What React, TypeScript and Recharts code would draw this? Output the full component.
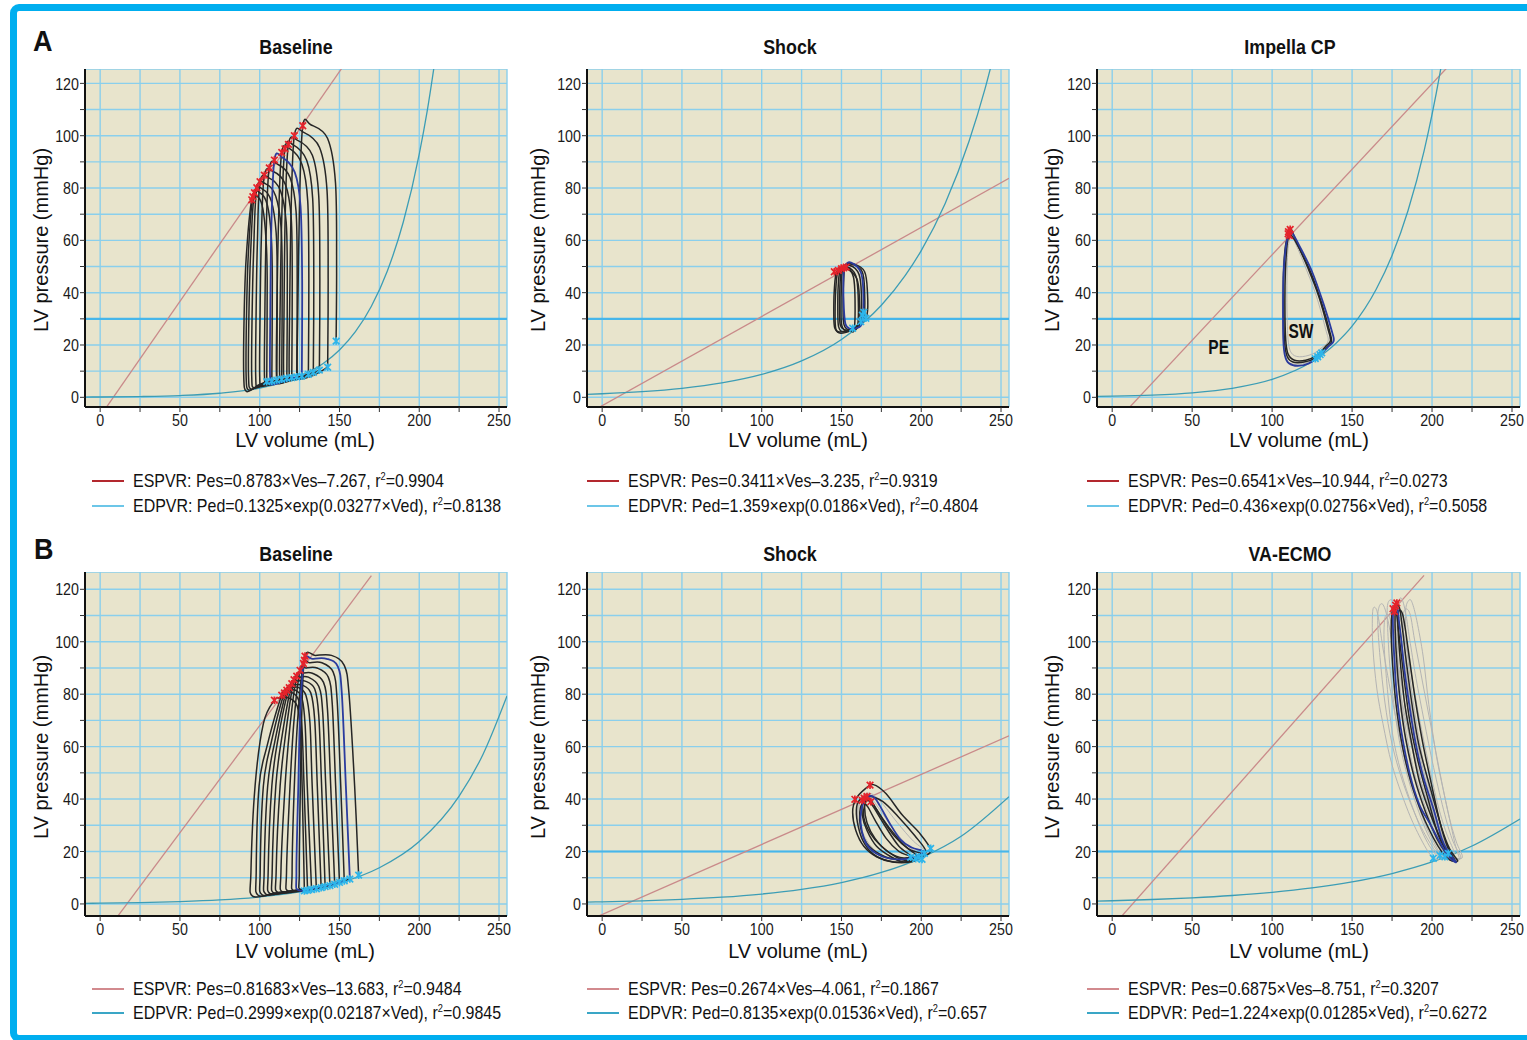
import React from 'react';
import { ComposedChart, Line, Scatter, XAxis, YAxis, CartesianGrid, ReferenceLine } from 'recharts';

type Pt = [number, number];

// ---------------- axes ----------------
const xTicks = [0, 25, 50, 75, 100, 125, 150, 175, 200, 225, 250];
const yTicks = [0, 10, 20, 30, 40, 50, 60, 70, 80, 90, 100, 110, 120];
const xLabelTicks = [0, 50, 100, 150, 200, 250];
const yLabelTicks = [0, 20, 40, 60, 80, 100, 120];

// ---------------- A / Baseline ----------------
const a1Espvr: Pt[] = [[-2, -9.0], [155, 128.9]];
const a1Edpvr: Pt[] = [[-10, 0.1], [0, 0.13], [25, 0.3], [50, 0.68], [75, 1.55], [100, 3.5], [125, 8], [140, 13], [150, 18.1], [160, 25.1], [170, 34.8], [180, 48.3], [190, 67], [200, 93], [205, 109.5], [212, 137.8]];
const a1Loops: Pt[][] = [
  [[147.9, 21.5], [148.2, 50], [147.5, 82], [142.5, 99], [132, 104.2], [127, 103.8], [125, 75], [123.8, 30], [123.5, 10], [125, 7], [134, 8.5], [142.6, 11.5]],
  [[142.6, 11.5], [142.9, 45], [142.2, 79], [137.5, 95.5], [127, 101.5], [121.7, 100], [119.7, 72], [118.7, 30], [118.5, 9], [120, 6.5], [130, 8.2], [137.4, 10.4]],
  [[137.4, 10.4], [137.7, 45], [137, 77], [133, 92.5], [123.5, 98.3], [118, 96.7], [116, 70], [115.2, 30], [115, 9], [116.5, 6], [126, 7.8], [133.6, 9.5]],
  [[133.6, 9.5], [133.9, 45], [133.2, 76], [129.5, 90.5], [121, 96.5], [115.8, 95], [113.8, 68], [112.7, 30], [112.5, 8.5], [114, 5.6], [123, 7.4], [130.5, 8.8]],
  [[130.5, 8.8], [130.8, 45], [130.1, 75], [126.5, 89], [119, 95], [113.8, 93.6], [111.8, 67], [110.7, 30], [110.5, 8.5], [112, 5.2], [120, 6.9], [126.4, 8.1]],
  [[123.2, 7.8], [123.5, 45], [122.8, 71], [119, 84], [111.5, 89], [106, 87.7], [104, 62], [103.2, 30], [103, 8], [104.5, 4.6], [113, 6.1], [120.1, 7.5]],
  [[120.1, 7.5], [120.4, 45], [119.7, 69], [116, 81.5], [108.5, 86.3], [102.9, 84.9], [101, 60], [100.2, 30], [100, 8], [101.5, 4.3], [110, 5.8], [117, 7.3]],
  [[117, 7.3], [117.3, 45], [116.6, 67], [113, 79], [106, 83.8], [100.2, 82.4], [98.5, 58], [97.7, 30], [97.5, 8], [99, 4], [107, 5.6], [113.8, 6.9]],
  [[113.8, 6.9], [114.1, 45], [113.4, 65], [110, 77], [104, 81.5], [98.2, 80.1], [96.2, 56], [95.2, 30], [95, 8], [96.5, 3.6], [104, 5.3], [110.7, 6.6]],
  [[110.7, 6.6], [111, 45], [110.3, 63], [107.3, 75], [102, 79.5], [96.7, 78.2], [94.3, 55], [93.2, 30], [93, 8], [94.5, 3.2], [101, 5], [107.6, 6.2]],
  [[107.6, 6.2], [107.9, 45], [107.2, 62], [104.8, 73.5], [100.5, 78], [95.7, 76.7], [92.8, 54], [91.7, 30], [91.5, 8], [93, 2.8], [99, 4.6], [104.4, 6]],
  [[104.4, 6], [104.7, 45], [104, 60], [102, 72], [99, 76.5], [95, 75.5], [91.5, 53], [90.2, 30], [90, 8], [91.5, 2.3], [97, 3.6], [103, 5.4]],
];
const a1Blue: Pt[][] = [
  [[126.4, 8.1], [126.6, 45], [125.6, 73], [122, 86], [114, 91.8], [109.2, 90.7], [107.3, 65], [106.6, 30], [106.5, 8], [108, 4.9], [116, 6.4], [123.2, 7.8]],
];
const a1Es: Pt[] = [[127, 103.8], [121.7, 100], [118, 96.7], [115.8, 95], [113.8, 93.6], [109.2, 90.7], [106, 87.7], [102.9, 84.9], [100.2, 82.4], [98.2, 80.1], [96.7, 78.2], [95.7, 76.7], [95, 75.5]];
const a1Ed: Pt[] = [[147.9, 21.5], [142.6, 11.5], [137.4, 10.4], [133.6, 9.5], [130.5, 8.8], [126.4, 8.1], [123.2, 7.8], [120.1, 7.5], [117, 7.3], [113.8, 6.9], [110.7, 6.6], [107.6, 6.2], [104.4, 6.0]];

// ---------------- A / Shock ----------------
const a2Espvr: Pt[] = [[-10, -6.6], [255, 83.7]];
const a2Edpvr: Pt[] = [[-10, 1.13], [0, 1.36], [25, 2.16], [50, 3.44], [75, 5.48], [100, 8.73], [125, 13.9], [150, 22.1], [175, 35.2], [190, 46.6], [200, 56.1], [215, 74.1], [230, 98], [240, 118], [248, 137]];
const a2Loops: Pt[][] = [
  [[160, 27], [160.5, 38], [159, 46.5], [153, 50], [148, 48.5], [146.5, 42], [146, 32], [146.5, 26], [149.5, 24.5], [156, 25.5]],
  [[162, 28.5], [162.5, 39], [161, 47], [155, 50.5], [149.5, 49], [148, 43], [147.7, 33], [148.2, 27], [151, 25], [158, 26.5]],
  [[158, 26], [158.5, 37], [157.5, 46], [153, 50], [150, 48.5], [149, 42], [148.8, 32], [149.3, 27.5], [151.5, 26], [155.5, 25.5]],
  [[164, 30], [164.5, 40], [163, 48], [156, 51], [151, 49.5], [150, 43], [149.7, 33], [150.2, 27.5], [153, 25.5], [160, 27.5]],
  [[161, 27.5], [161.3, 37], [159.5, 45.5], [152, 49.5], [147, 48], [145.5, 41], [145.2, 31], [145.8, 26.5], [148.5, 25], [156, 26]],
  [[166, 31.5], [166.3, 40], [164.5, 48], [157.5, 51], [152.5, 50], [151.3, 44], [151, 34], [151.5, 28], [154.5, 26], [162, 28.5]],
];
const a2Blue: Pt[][] = [
  [[163, 28.5], [163.8, 38], [162.3, 47.5], [156, 51.5], [152, 50], [151.2, 44], [151.5, 34], [152.5, 28], [155, 26.3], [159.5, 26.5]],
];
const a2Es: Pt[] = [[145.5, 48], [148, 48.5], [150, 49.2], [151.5, 49.5], [153, 49.8]];
const a2Ed: Pt[] = [[157, 26.4], [162.1, 28.9], [165.3, 30.2], [163.1, 31.4], [164, 32.5]];

// ---------------- A / Impella CP ----------------
const a3Espvr: Pt[] = [[0, -10.9], [210, 126.4]];
const a3Edpvr: Pt[] = [[-10, 0.33], [0, 0.44], [25, 0.87], [50, 1.73], [75, 3.44], [100, 6.86], [125, 13.7], [140, 20.7], [150, 27.2], [165, 41.2], [175, 54.2], [185, 71.4], [195, 94.1], [205, 124], [210, 142]];
const a3Gray: Pt[][] = [
  [[112, 62], [110, 57], [109.3, 46], [109.3, 33], [110, 22], [112, 17], [117, 15.5], [125, 16.5], [131, 19], [135, 21.5], [133.5, 26], [127.5, 39], [120, 51], [114.5, 59]],
  [[110.5, 63], [108, 57], [106.5, 45], [106.5, 32], [107.3, 20], [109, 14.5], [112.5, 12.8], [119, 12.8], [126, 14.5], [132, 17.8], [136.5, 20.5], [135.8, 24], [130, 37], [122.5, 50], [115.5, 58.5]],
];
const a3Loops: Pt[][] = [
  [[110.5, 62.5], [108.3, 57.5], [107.2, 47], [107.2, 33], [107.8, 21], [109.5, 15.5], [113, 13.5], [120, 13.5], [127, 15], [133, 18.5], [137, 21], [136.3, 24.5], [131, 36], [124, 48], [116.5, 57.5], [112, 62]],
  [[111.5, 64], [109.5, 59], [108.3, 48], [108, 35], [108.5, 22], [110, 16.5], [114, 14.2], [121, 14.2], [128, 16], [133.5, 19.5], [136.5, 21.7], [135, 26], [129.5, 38], [122, 50], [115.5, 59], [112.5, 63.5]],
];
const a3Blue: Pt[][] = [
  [[111, 63.5], [108.8, 58.5], [107.2, 48], [106.8, 35], [107, 22], [108, 16], [110.5, 13], [116, 12], [123, 13], [129, 15.5], [135, 19.3], [138.5, 21.5], [137.5, 25], [132, 36], [125, 48], [117, 58], [112.5, 63]],
];
const a3Es: Pt[] = [[110.2, 63.3], [110.8, 61.8], [111.3, 64.2], [110, 62.5]];
const a3Ed: Pt[] = [[128.5, 15.5], [130, 16.3], [127, 14.8], [131, 17]];
const a3Notes: { v: number; p: number; text: string }[] = [{ v: 118, p: 25.7, text: 'SW' }, { v: 66.6, p: 19.3, text: 'PE' }];

// ---------------- B / Baseline ----------------
const b1Espvr: Pt[] = [[8, -7.15], [170, 125.2]];
const b1Edpvr: Pt[] = [[-10, 0.24], [0, 0.3], [25, 0.52], [50, 0.9], [75, 1.55], [100, 2.67], [125, 4.62], [150, 7.97], [175, 13.8], [200, 23.8], [225, 41.1], [240, 57.1], [255, 79.3]];
const b1Loops: Pt[][] = [
  [[162, 11], [159.5, 45], [156, 80], [153, 91], [145, 94.8], [135, 94.8], [128.4, 94.5], [126.5, 75], [125.5, 45], [124.8, 12], [126, 5.4], [140, 7], [156.5, 9.5]],
  [[153, 8.8], [150.8, 45], [148.5, 78], [146, 88.5], [139, 92], [131, 92], [127.4, 91.7], [124, 72], [121.7, 45], [120.3, 12], [121.5, 5], [135, 6.3], [150, 8.2]],
  [[150, 8.2], [147.6, 45], [145.5, 76], [143, 86.5], [136, 90], [129, 90], [125.3, 89.1], [121.5, 70], [119, 45], [116.8, 12], [118, 4.8], [132, 6], [147, 7.5]],
  [[147, 7.5], [144.5, 45], [142.5, 74], [140, 84.5], [133, 88], [127, 88], [123.2, 86.9], [119, 68], [115.9, 45], [113.3, 12], [114.5, 4.5], [129, 5.7], [144, 7]],
  [[144, 7], [141.4, 45], [139.5, 73], [137, 83], [130.5, 86.5], [125, 86.5], [121.5, 85.5], [116.5, 66], [112.8, 45], [110.3, 12], [111.5, 4.3], [126, 5.5], [141, 6.6]],
  [[141, 6.6], [138.8, 45], [137, 72], [134.5, 82], [128.5, 85], [123.5, 85], [120.1, 84], [114, 64], [110.1, 45], [107.8, 12], [109, 4.1], [123, 5.2], [138.5, 6.2]],
  [[138.5, 6.2], [136.1, 45], [134.5, 70], [132, 80.5], [126.5, 83.5], [122, 83.5], [118.5, 82.5], [111.5, 63], [107.6, 45], [105.3, 12], [106.5, 3.9], [120, 5], [135.5, 5.8]],
  [[135.5, 5.8], [132.9, 45], [131.5, 69], [129, 79.5], [124.5, 82.5], [120.5, 82.5], [117, 81.5], [109.5, 62], [105, 45], [102.8, 12], [104, 3.7], [118, 4.8], [132.5, 5.5]],
  [[132.5, 5.5], [129.8, 45], [128.5, 68], [126.5, 78.5], [122.5, 81.5], [119, 81.5], [115.5, 80.5], [107, 61], [102.3, 45], [100.3, 12], [101.5, 3.5], [115, 4.6], [130, 5.2]],
  [[130, 5.2], [127.8, 45], [126.5, 67], [124.5, 77.5], [120.5, 80.5], [117, 80.5], [113.8, 79.6], [104.5, 60], [99.6, 45], [97.8, 12], [99, 3.3], [112, 4.4], [128, 5]],
  [[128, 5], [126.6, 45], [125.5, 66], [123.5, 75.5], [118.5, 78.5], [113, 78.5], [109.2, 77.7], [102.3, 68.8], [97.1, 45], [94.5, 12], [95.5, 3], [110, 4.2], [126, 4.8]],
];
const b1Blue: Pt[][] = [
  [[156.5, 9.5], [154, 45], [151.5, 80], [149, 90.5], [142, 93.5], [133, 93.5], [128, 93], [125.5, 75], [124.2, 45], [123, 12], [124.5, 5.2], [138, 6.5], [153, 8.8]],
];
const b1Es: Pt[] = [[128.4, 94.5], [128, 93], [127.4, 91.7], [125.3, 89.1], [123.2, 86.9], [121.5, 85.5], [120.1, 84], [118.5, 82.5], [117, 81.5], [115.5, 80.5], [113.8, 79.6], [109.2, 77.7]];
const b1Ed: Pt[] = [[162, 11], [156.5, 9.5], [153, 8.8], [150, 8.2], [147, 7.5], [144, 7], [141, 6.6], [138.5, 6.2], [135.5, 5.8], [132.5, 5.5], [130, 5.2], [128, 5]];

// ---------------- B / Shock ----------------
const b2Espvr: Pt[] = [[-10, -6.7], [255, 64.1]];
const b2Edpvr: Pt[] = [[-10, 0.7], [0, 0.81], [25, 1.19], [50, 1.75], [75, 2.57], [100, 3.78], [125, 5.55], [150, 8.15], [175, 12], [200, 17.6], [225, 25.8], [255, 40.9]];
const b2Gray: Pt[][] = [
  [[204, 19.5], [195, 24], [185, 31], [176, 38], [169, 42], [163.5, 41.5], [160.5, 38], [160.5, 31], [164, 24], [171, 19.5], [181, 17], [192, 16.5], [200, 17.5]],
  [[199, 18.5], [191, 22.5], [182, 29], [174, 36], [168, 40.5], [163, 40.5], [161, 37], [162, 30], [166, 24], [173, 19.5], [183, 17], [193, 17]],
];
const b2Loops: Pt[][] = [
  [[206, 20.5], [199, 27], [188, 34], [178, 42], [170, 45.5], [165, 44], [159, 40], [157, 35], [159, 28], [164, 22], [172, 18], [182, 16], [193, 16], [201, 18]],
  [[203, 20], [196, 26], [186, 33], [176, 39], [168, 41], [162, 40], [159.5, 37], [160, 31], [163.5, 24], [170, 19], [179, 16.5], [190, 16], [198, 17.5]],
  [[198, 18], [190, 22], [180, 29], [172, 36], [168, 39.5], [165, 38.5], [164, 33], [168, 27], [175, 22], [184, 18], [192, 16.5]],
  [[195, 17.5], [186, 22], [177, 30], [170, 37], [166, 40], [163.5, 39], [163, 34], [166, 28], [172, 22], [181, 18], [189, 16]],
  [[200, 19], [192, 21], [183, 26], [175, 33], [169, 39], [166, 40.5], [164.5, 37], [166, 31], [171, 25], [179, 20], [189, 17.5]],
  [[193, 18], [186, 20], [178, 25], [171, 32], [166.5, 37], [163.5, 38.5], [161.5, 35], [162, 29], [166, 23], [174, 19], [184, 17]],
];
const b2Blue: Pt[][] = [
  [[201.5, 20], [194, 21.5], [187, 24.5], [180, 31], [174, 37.5], [170, 40.9], [165.5, 40.5], [162.5, 36], [162, 31], [164, 25], [168, 21], [176, 18], [187, 17], [196, 18]],
];
const b2Es: Pt[] = [[167.9, 45.3], [158.4, 39.9], [164.2, 40.3], [168.4, 39], [166, 41], [163, 39.5]];
const b2Ed: Pt[] = [[193.4, 17.8], [198.6, 18], [205.9, 21.2], [202, 19.3], [196.5, 17.3], [200.5, 17]];

// ---------------- B / VA-ECMO ----------------
const b3Espvr: Pt[] = [[0, -8.75], [195, 125.3]];
const b3Edpvr: Pt[] = [[-10, 1.08], [0, 1.22], [25, 1.69], [50, 2.33], [75, 3.21], [100, 4.42], [125, 6.1], [150, 8.41], [175, 11.6], [200, 16], [225, 22.1], [255, 32.4]];
const b3Gray: Pt[][] = [
  [[205, 18.5], [196, 30], [186, 48], [177, 72], [170, 95], [166.5, 109], [164.5, 113], [162.8, 111], [163, 98], [165.5, 82], [169.3, 68.8], [175, 53], [184, 37], [192, 26], [200, 18]],
  [[217, 17], [214.3, 23.1], [209, 38], [202.8, 56.1], [198, 76], [194.5, 94.2], [190.5, 108], [187.5, 115], [185.5, 115.8], [183.5, 112], [184, 100], [186.5, 85], [190, 70], [195, 53], [201, 37], [207, 25], [212, 18.5]],
  [[218, 17.5], [213, 24], [208, 34], [201, 52], [195, 70], [190, 86], [186, 101], [183.5, 111], [181, 116.5], [179, 115], [178, 108], [178.5, 95], [180.5, 80], [184, 65], [190, 47], [197, 33], [204, 23], [210, 18]],
  [[210, 18], [203, 27], [196, 40], [189, 57], [183, 76], [178.5, 93], [175.5, 104], [173, 110], [170.5, 109], [170, 100], [171.5, 86], [174.5, 68], [179, 54], [186, 40], [195, 26], [203, 18.5]],
  [[219, 18], [215, 24], [210, 35], [204, 53], [198, 72], [193, 88], [189, 101], [186.5, 110], [184, 112.5], [182, 110], [182.5, 100], [184, 88], [187, 73], [191, 58], [196, 45], [203, 30], [210, 20], [215, 17.5]],
  [[213, 17], [207, 25], [200, 38], [193, 55], [187, 74], [182, 92], [178.5, 106], [176.5, 114], [174, 116], [172, 113], [172.5, 102], [174, 88], [177.5, 70], [182, 55], [189, 40], [197, 27], [205, 19]],
  [[214, 19], [209, 27], [204, 37], [198, 53], [192, 71], [187, 88], [183, 101], [180.5, 108], [178, 110], [176.5, 106], [177, 95], [179, 82], [182, 68], [187, 54], [193, 42], [200, 30], [207, 21]],
  [[211, 18], [204, 27], [196, 41], [188, 58], [181, 78], [176, 96], [172.5, 108], [169.5, 114], [167, 113.5], [166, 108], [167.5, 94], [170.5, 77], [175, 61], [182, 46], [191, 32], [200, 22], [206, 17.5]],
];
const b3Loops: Pt[][] = [
  [[216, 16.5], [211, 21], [206, 29], [199, 44], [192, 60], [187.5, 76], [184, 92], [181.5, 105], [180, 112], [178.5, 114], [177, 112], [177, 104], [178, 92], [180, 78], [183.5, 63], [189, 48], [196, 35], [203, 25], [208.5, 19.5], [212.5, 17]],
  [[213, 16.5], [208.5, 20.5], [203.5, 27], [197.5, 40], [191, 55], [186, 70], [182.5, 86], [179.8, 100], [178, 110], [176.3, 113], [174.8, 110], [174.5, 102], [175.5, 90], [177.5, 76], [181.5, 60], [187, 46], [194, 34], [201, 25], [206.5, 19.5], [210, 17.3]],
  [[214, 17], [209.5, 22], [205, 31], [199.5, 46], [194, 62], [189.5, 78], [186, 93], [183.5, 104], [181.8, 110], [180, 112], [178.7, 110], [179, 102], [180.5, 90], [183, 76], [187, 62], [192, 47], [198.5, 35], [204.5, 26], [209.5, 20], [212, 18]],
];
const b3Blue: Pt[][] = [
  [[215, 16], [210, 20], [206, 25], [201, 36], [194.5, 48.5], [189.5, 62], [186, 75], [183, 88], [180.8, 100.6], [179.3, 108], [178.5, 112.5], [177, 113.5], [175.7, 111.5], [175.6, 105], [176.3, 95], [177.7, 81.5], [180.5, 67], [186, 49.8], [192, 38], [198.6, 30.7], [204, 24.5], [209, 19.3], [212, 17]],
];
const b3Es: Pt[] = [[177.2, 113.9], [175.6, 112.6], [176.5, 111.5], [178, 114.8]];
const b3Ed: Pt[] = [[200.8, 17.4], [208, 18], [210.2, 19.3], [205, 18.5]];

// ---------------- text ----------------
const titles = ['Baseline', 'Shock', 'Impella CP', 'Baseline', 'Shock', 'VA-ECMO'];
const espvrText = ['ESPVR: Pes=0.8783×Ves–7.267, r', 'ESPVR: Pes=0.3411×Ves–3.235, r', 'ESPVR: Pes=0.6541×Ves–10.944, r', 'ESPVR: Pes=0.81683×Ves–13.683, r', 'ESPVR: Pes=0.2674×Ves–4.061, r', 'ESPVR: Pes=0.6875×Ves–8.751, r'];
const espvrR2 = ['0.9904', '0.9319', '0.0273', '0.9484', '0.1867', '0.3207'];
const edpvrText = ['EDPVR: Ped=0.1325×exp(0.03277×Ved), r', 'EDPVR: Ped=1.359×exp(0.0186×Ved), r', 'EDPVR: Ped=0.436×exp(0.02756×Ved), r', 'EDPVR: Ped=0.2999×exp(0.02187×Ved), r', 'EDPVR: Ped=0.8135×exp(0.01536×Ved), r', 'EDPVR: Ped=1.224×exp(0.01285×Ved), r'];
const edpvrR2 = ['0.8138', '0.4804', '0.5058', '0.9845', '0.657', '0.6272'];

// ---------------- layout / style ----------------
const SANS = '"Liberation Sans", Arial, Helvetica, sans-serif';
const NARROW_SCALE = 0.84;
const colLeft = [85, 587, 1097];
const colWidth = [422, 422, 423];
const rowTop = [69, 572];
const rowHeight = [338, 344];
const rowYDomain: [number, number][] = [[-3.7, 125.5], [-4.6, 126.6]];
const X_DOMAIN: [number, number] = [-9.5, 255];
const Y_W = 40;
const X_H = 30;
const R_M = 16;
const titleX = [296, 790, 1290];
const titleY = [47, 554];
const yLabX = [41, 538, 1052];
const yLabY = [240, 747];
const xLabX = [305, 798, 1299];
const xLabY = [440, 951];
const legX = [92, 587, 1087];
const legY = [[481, 506], [989, 1013]];
const legEsColor = ['#B3282E', '#D28A8E'];
const legEdColor = ['#6CC6E8', '#3AA6C6'];

interface PanelCfg {
  row: number; col: number;
  espvr: Pt[]; edpvr: Pt[];
  gray: Pt[][]; black: Pt[][]; blue: Pt[][];
  closed: boolean; es: Pt[]; ed: Pt[];
  emph: number | null;
  notes?: { v: number; p: number; text: string }[];
}

const panels: PanelCfg[] = [
  { row: 0, col: 0, espvr: a1Espvr, edpvr: a1Edpvr, gray: [], black: a1Loops, blue: a1Blue, closed: false, es: a1Es, ed: a1Ed, emph: 30 },
  { row: 0, col: 1, espvr: a2Espvr, edpvr: a2Edpvr, gray: [], black: a2Loops, blue: a2Blue, closed: true, es: a2Es, ed: a2Ed, emph: 30 },
  { row: 0, col: 2, espvr: a3Espvr, edpvr: a3Edpvr, gray: a3Gray, black: a3Loops, blue: a3Blue, closed: true, es: a3Es, ed: a3Ed, emph: 30, notes: a3Notes },
  { row: 1, col: 0, espvr: b1Espvr, edpvr: b1Edpvr, gray: [], black: b1Loops, blue: b1Blue, closed: false, es: b1Es, ed: b1Ed, emph: null },
  { row: 1, col: 1, espvr: b2Espvr, edpvr: b2Edpvr, gray: b2Gray, black: b2Loops, blue: b2Blue, closed: true, es: b2Es, ed: b2Ed, emph: 20 },
  { row: 1, col: 2, espvr: b3Espvr, edpvr: b3Edpvr, gray: b3Gray, black: b3Loops, blue: b3Blue, closed: true, es: b3Es, ed: b3Ed, emph: 20 },
];

const toData = (pts: Pt[]) => pts.map(([v, p]) => ({ v, p }));

// smooth curve through the points (Catmull-Rom), open or closed
function makeCurve(closed: boolean) {
  return (context: any) => {
    let pts: number[][] = [];
    return {
      areaStart() {},
      areaEnd() {},
      lineStart() { pts = []; },
      point(x: number, y: number) { pts.push([+x, +y]); },
      lineEnd() {
        const n = pts.length;
        if (!n) return;
        context.moveTo(pts[0][0], pts[0][1]);
        if (n < 3) { for (let i = 1; i < n; i++) context.lineTo(pts[i][0], pts[i][1]); return; }
        const get = (i: number) => (closed ? pts[(i + n) % n] : pts[Math.max(0, Math.min(n - 1, i))]);
        const segs = closed ? n : n - 1;
        const k = 1 / 6;
        for (let i = 0; i < segs; i++) {
          const p0 = get(i - 1), p1 = get(i), p2 = get(i + 1), p3 = get(i + 2);
          context.bezierCurveTo(
            p1[0] + (p2[0] - p0[0]) * k, p1[1] + (p2[1] - p0[1]) * k,
            p2[0] - (p3[0] - p1[0]) * k, p2[1] - (p3[1] - p1[1]) * k,
            p2[0], p2[1]
          );
        }
        if (closed) context.closePath();
      },
    };
  };
}
const openCurve = makeCurve(false);
const closedCurve = makeCurve(true);

const xMark = (color: string) => (props: any) => {
  const { cx, cy } = props;
  if (cx == null || cy == null || isNaN(cx) || isNaN(cy)) return <g />;
  const s = 3.3;
  return (
    <path d={`M${cx - s},${cy - s}L${cx + s},${cy + s}M${cx - s},${cy + s}L${cx + s},${cy - s}M${cx},${cy - s - 0.5}L${cx},${cy + s + 0.5}`} stroke={color} strokeWidth={1.7} fill="none" />
  );
};

const noteShape = (text: string) => (props: any) => {
  const { cx, cy } = props;
  if (cx == null || cy == null) return <g />;
  return (
    <text x={0} y={0} transform={`translate(${cx},${cy}) scale(0.74,1)`} textAnchor="middle" dy="0.36em" fontFamily={SANS} fontWeight={700} fontSize={21} fill="#111">{text}</text>
  );
};

const XTick = (props: any) => {
  const { x, y, payload } = props;
  const t = payload && payload.value;
  if (!xLabelTicks.includes(t)) return <g />;
  return (
    <text x={0} y={0} transform={`translate(${x},${y}) scale(0.84,1)`} textAnchor="middle" dy="0.74em" fontFamily={SANS} fontSize={17} fill="#1a1a1a">{String(t)}</text>
  );
};
const YTick = (props: any) => {
  const { x, y, payload } = props;
  const t = payload && payload.value;
  if (!yLabelTicks.includes(t)) return <g />;
  return (
    <text x={0} y={0} transform={`translate(${x},${y}) scale(0.84,1)`} textAnchor="end" dy="0.36em" fontFamily={SANS} fontSize={17} fill="#1a1a1a">{String(t)}</text>
  );
};

function Panel({ cfg, idx }: { cfg: PanelCfg; idx: number }) {
  const w = colWidth[cfg.col] + Y_W + R_M;
  const h = rowHeight[cfg.row] + X_H;
  const left = colLeft[cfg.col] - Y_W;
  const top = rowTop[cfg.row];
  const curve = cfg.closed ? closedCurve : openCurve;
  return (
    <div style={{ position: 'absolute', left, top, width: w, height: h }}>
      <ComposedChart width={w} height={h} margin={{ top: 0, right: R_M, bottom: 0, left: 0 }}>
        <CartesianGrid stroke="#8ACFEC" strokeWidth={1.4} fill="#E8E4CC" fillOpacity={1} />
        <XAxis
          type="number" dataKey="v" domain={X_DOMAIN} allowDataOverflow ticks={xTicks} interval={0} height={X_H}
          tick={<XTick />} tickSize={5} tickMargin={1}
          tickLine={{ stroke: '#333' }} axisLine={{ stroke: '#111', strokeWidth: 2 }}
        />
        <YAxis
          type="number" dataKey="p" domain={rowYDomain[cfg.row]} allowDataOverflow ticks={yTicks} interval={0} width={Y_W}
          tick={<YTick />} tickSize={5} tickMargin={1}
          tickLine={{ stroke: '#333' }} axisLine={{ stroke: '#111', strokeWidth: 2 }}
        />
        {cfg.emph != null && <ReferenceLine y={cfg.emph} stroke="#46B6EA" strokeWidth={2.2} />}
        <Line data={toData(cfg.espvr)} dataKey="p" type="linear" stroke="#C98A8A" strokeWidth={1.3} dot={false} activeDot={false} isAnimationActive={false} />
        <Line data={toData(cfg.edpvr)} dataKey="p" type="monotone" stroke="#3C9DB5" strokeWidth={1.3} dot={false} activeDot={false} isAnimationActive={false} />
        {cfg.gray.map((l, i) => (
          <Line key={`g${idx}-${i}`} data={toData(l)} dataKey="p" type={curve as any} stroke="#B4B4B4" strokeWidth={1} dot={false} activeDot={false} isAnimationActive={false} />
        ))}
        {cfg.black.map((l, i) => (
          <Line key={`k${idx}-${i}`} data={toData(l)} dataKey="p" type={curve as any} stroke="#262626" strokeWidth={1.5} dot={false} activeDot={false} isAnimationActive={false} />
        ))}
        {cfg.blue.map((l, i) => (
          <Line key={`b${idx}-${i}`} data={toData(l)} dataKey="p" type={curve as any} stroke="#2B3B9E" strokeWidth={1.8} dot={false} activeDot={false} isAnimationActive={false} />
        ))}
        <Scatter data={toData(cfg.es)} shape={xMark('#E5232B')} isAnimationActive={false} />
        <Scatter data={toData(cfg.ed)} shape={xMark('#2DB5EA')} isAnimationActive={false} />
        {(cfg.notes || []).map((n, i) => (
          <Scatter key={`n${idx}-${i}`} data={[{ v: n.v, p: n.p }]} shape={noteShape(n.text)} isAnimationActive={false} />
        ))}
      </ComposedChart>
    </div>
  );
}

const abs = (x: number, y: number, w: number, h: number): React.CSSProperties => ({ position: 'absolute', left: x - w / 2, top: y - h / 2, width: w, height: h, lineHeight: `${h}px`, textAlign: 'center', whiteSpace: 'nowrap' });

export default function App() {
  return (
    <div style={{ position: 'absolute', left: 0, top: 0, width: 1527, height: 1040, overflow: 'hidden', background: '#fff' }}>
      <div style={{ position: 'absolute', left: 10, top: 4, width: 1560, height: 1038, border: '7px solid #00AEEF', borderRadius: 9, boxSizing: 'border-box' }} />
      <div style={{ position: 'absolute', left: 33, top: 24, fontFamily: SANS, fontWeight: 700, fontSize: 30, lineHeight: '34px', color: '#111', transform: 'scaleX(0.9)', transformOrigin: 'left center' }}>A</div>
      <div style={{ position: 'absolute', left: 34, top: 532, fontFamily: SANS, fontWeight: 700, fontSize: 30, lineHeight: '34px', color: '#111', transform: 'scaleX(0.9)', transformOrigin: 'left center' }}>B</div>
      {panels.map((cfg, i) => (
        <React.Fragment key={i}>
          <Panel cfg={cfg} idx={i} />
          <div style={{ ...abs(titleX[cfg.col], titleY[cfg.row], 300, 28), fontFamily: SANS, fontWeight: 700, fontSize: 21, color: '#111', transform: 'scaleX(0.85)' }}>{titles[i]}</div>
          <div style={{ ...abs(yLabX[cfg.col], yLabY[cfg.row], 300, 26), fontFamily: SANS, fontSize: 20, color: '#111', transform: 'rotate(-90deg)' }}>LV pressure (mmHg)</div>
          <div style={{ ...abs(xLabX[cfg.col], xLabY[cfg.row], 300, 26), fontFamily: SANS, fontSize: 20, color: '#111' }}>LV volume (mL)</div>
          {[0, 1].map((j) => (
            <div key={j} style={{ position: 'absolute', left: legX[cfg.col], top: legY[cfg.row][j] - 12, height: 24, display: 'flex', alignItems: 'center', whiteSpace: 'nowrap', fontFamily: SANS, fontSize: 19, color: '#111' }}>
              <span style={{ display: 'inline-block', width: 32, height: 2, background: j === 0 ? legEsColor[cfg.row] : legEdColor[cfg.row], marginRight: 9 }} />
              <span style={{ display: 'inline-block', transform: `scaleX(${NARROW_SCALE})`, transformOrigin: 'left center' }}>
                {j === 0 ? espvrText[i] : edpvrText[i]}
                <sup style={{ fontSize: 11, verticalAlign: 'super', lineHeight: 0 }}>2</sup>
                ={j === 0 ? espvrR2[i] : edpvrR2[i]}
              </span>
            </div>
          ))}
        </React.Fragment>
      ))}
    </div>
  );
}
